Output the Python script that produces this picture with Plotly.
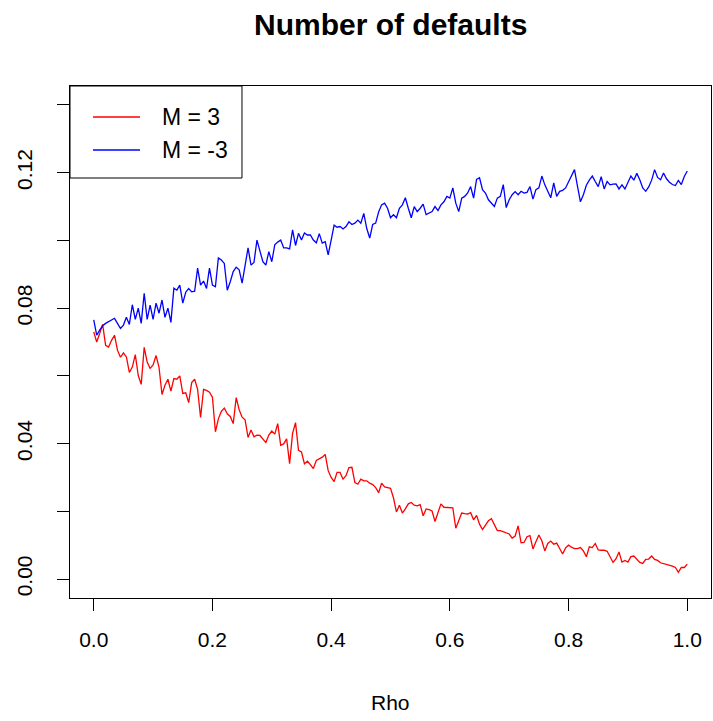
import plotly.graph_objects as go

# correlation grid, step 0.005
rho = [round(i * 0.005, 3) for i in range(201)]

# average number of defaults, M = 3
defaults_m3 = [
    0.0730, 0.0700, 0.0725, 0.0752, 0.0690, 0.0685, 0.0705, 0.0720, 0.0676, 0.0655,
    0.0668, 0.0656, 0.0610, 0.0626, 0.0663, 0.0601, 0.0575, 0.0684, 0.0641, 0.0622,
    0.0632, 0.0660, 0.0625, 0.0545, 0.0572, 0.0590, 0.0555, 0.0592, 0.0590, 0.0600,
    0.0548, 0.0550, 0.0521, 0.0580, 0.0590, 0.0560, 0.0477, 0.0560, 0.0557, 0.0552,
    0.0537, 0.0435, 0.0473, 0.0495, 0.0505, 0.0488, 0.0480, 0.0459, 0.0536, 0.0500,
    0.0478, 0.0470, 0.0418, 0.0440, 0.0420, 0.0425, 0.0424, 0.0412, 0.0403, 0.0425,
    0.0437, 0.0428, 0.0459, 0.0395, 0.0399, 0.0414, 0.0341, 0.0430, 0.0462, 0.0380,
    0.0375, 0.0340, 0.0348, 0.0338, 0.0326, 0.0350, 0.0355, 0.0360, 0.0368, 0.0320,
    0.0300, 0.0288, 0.0315, 0.0315, 0.0295, 0.0305, 0.0329, 0.0330, 0.0285, 0.0280,
    0.0295, 0.0290, 0.0290, 0.0283, 0.0279, 0.0270, 0.0255, 0.0283, 0.0272, 0.0270,
    0.0268, 0.0240, 0.0198, 0.0218, 0.0195, 0.0207, 0.0222, 0.0226, 0.0218, 0.0216,
    0.0220, 0.0187, 0.0207, 0.0205, 0.0201, 0.0170, 0.0196, 0.0222, 0.0212, 0.0212,
    0.0212, 0.0210, 0.0150, 0.0172, 0.0195, 0.0193, 0.0192, 0.0196, 0.0175, 0.0188,
    0.0162, 0.0146, 0.0160, 0.0172, 0.0178, 0.0162, 0.0143, 0.0143, 0.0140, 0.0137,
    0.0133, 0.0121, 0.0127, 0.0157, 0.0107, 0.0108, 0.0125, 0.0128, 0.0089, 0.0110,
    0.0130, 0.0113, 0.0083, 0.0105, 0.0112, 0.0103, 0.0106, 0.0090, 0.0074, 0.0092,
    0.0100, 0.0094, 0.0090, 0.0090, 0.0093, 0.0083, 0.0066, 0.0095, 0.0093, 0.0105,
    0.0086, 0.0085, 0.0085, 0.0082, 0.0066, 0.0049, 0.0060, 0.0080, 0.0050, 0.0055,
    0.0050, 0.0066, 0.0068, 0.0060, 0.0049, 0.0046, 0.0058, 0.0059, 0.0068, 0.0058,
    0.0055, 0.0048, 0.0046, 0.0044, 0.0042, 0.0038, 0.0034, 0.0020, 0.0034, 0.0034,
    0.0044,
]

# average number of defaults, M = -3
defaults_m_neg3 = [
    0.0765, 0.0720, 0.0735, 0.0748, 0.0755, 0.0760, 0.0767, 0.0770, 0.0755, 0.0740,
    0.0750, 0.0773, 0.0752, 0.0810, 0.0767, 0.0800, 0.0755, 0.0844, 0.0767, 0.0809,
    0.0767, 0.0815, 0.0785, 0.0824, 0.0773, 0.0800, 0.0758, 0.0859, 0.0853, 0.0868,
    0.0815, 0.0847, 0.0858, 0.0848, 0.0850, 0.0918, 0.0868, 0.0880, 0.0858, 0.0918,
    0.0868, 0.0863, 0.0948, 0.0942, 0.0932, 0.0853, 0.0878, 0.0908, 0.0921, 0.0913,
    0.0874, 0.0927, 0.0978, 0.0927, 0.0935, 0.1001, 0.0967, 0.0937, 0.0927, 0.0967,
    0.0937, 0.0987, 0.0995, 0.1001, 0.0978, 0.0978, 0.0975, 0.1031, 0.0985, 0.1021,
    0.1001, 0.1022, 0.1016, 0.1016, 0.1001, 0.0993, 0.1020, 0.0992, 0.0996, 0.0957,
    0.1001, 0.1045, 0.1039, 0.1041, 0.1034, 0.1041, 0.1055, 0.1047, 0.1051, 0.1060,
    0.1051, 0.1080, 0.1035, 0.1007, 0.1047, 0.1051, 0.1084, 0.1105, 0.1110, 0.1095,
    0.1067, 0.1076, 0.1067, 0.1095, 0.1105, 0.1126, 0.1095, 0.1067, 0.1100, 0.1085,
    0.1095, 0.1107, 0.1076, 0.1080, 0.1085, 0.1100, 0.1088, 0.1105, 0.1114, 0.1130,
    0.1125, 0.1155, 0.1110, 0.1085, 0.1125, 0.1130, 0.1140, 0.1159, 0.1125, 0.1180,
    0.1185, 0.1150, 0.1140, 0.1120, 0.1110, 0.1100, 0.1125, 0.1130, 0.1165, 0.1097,
    0.1120, 0.1135, 0.1144, 0.1135, 0.1145, 0.1140, 0.1142, 0.1159, 0.1122, 0.1150,
    0.1155, 0.1190, 0.1164, 0.1145, 0.1126, 0.1170, 0.1130, 0.1145, 0.1148, 0.1155,
    0.1172, 0.1190, 0.1209, 0.1160, 0.1114, 0.1135, 0.1163, 0.1178, 0.1190, 0.1174,
    0.1159, 0.1188, 0.1152, 0.1174, 0.1164, 0.1166, 0.1167, 0.1152, 0.1164, 0.1152,
    0.1170, 0.1190, 0.1178, 0.1198, 0.1179, 0.1155, 0.1145, 0.1158, 0.1178, 0.1209,
    0.1186, 0.1179, 0.1199, 0.1182, 0.1172, 0.1165, 0.1162, 0.1177, 0.1165, 0.1189,
    0.1205,
]

x_ticks = [0.0, 0.2, 0.4, 0.6, 0.8, 1.0]
x_tick_labels = ["0.0", "0.2", "0.4", "0.6", "0.8", "1.0"]
y_ticks = [0.00, 0.02, 0.04, 0.06, 0.08, 0.10, 0.12, 0.14]
y_tick_labels = ["0.00", "", "0.04", "", "0.08", "", "0.12", ""]

legend_labels = ["M = 3", "M = -3"]
legend_colors = ["#ff0000", "#0000ff"]

FONT = "Liberation Sans, Arial, sans-serif"

fig = go.Figure()
fig.add_trace(go.Scatter(x=rho, y=defaults_m3, mode="lines", name=legend_labels[0],
                         line=dict(color=legend_colors[0], width=1.3)))
fig.add_trace(go.Scatter(x=rho, y=defaults_m_neg3, mode="lines", name=legend_labels[1],
                         line=dict(color=legend_colors[1], width=1.3)))

axis_common = dict(
    showgrid=False, zeroline=False,
    showline=True, linecolor="black", linewidth=1, mirror=True,
    ticks="outside", ticklen=12, tickwidth=1, tickcolor="black",
    tickfont=dict(family=FONT, size=21, color="black"),
)

fig.update_xaxes(range=[-0.04, 1.04], tickmode="array", tickvals=x_ticks,
                 ticktext=x_tick_labels, ticklabelstandoff=11, **axis_common)
fig.update_yaxes(range=[-0.0056, 0.1456], tickmode="array", tickvals=y_ticks,
                 ticktext=y_tick_labels, tickangle=-90, ticklabelstandoff=17,
                 **axis_common)

# legend box in the upper-left corner of the plotting region
box_x1, box_y0 = 0.2683, 0.8203
row_y = [0.9395, 0.875]
shapes = [dict(type="rect", xref="paper", yref="paper", x0=0, x1=box_x1, y0=box_y0, y1=1,
               line=dict(color="black", width=1), fillcolor="white", layer="above")]
annotations = []
for label, color, yy in zip(legend_labels, legend_colors, row_y):
    shapes.append(dict(type="line", xref="paper", yref="paper", x0=0.0359, x1=0.1092,
                       y0=yy, y1=yy, line=dict(color=color, width=1.3), layer="above"))
    annotations.append(dict(xref="paper", yref="paper", x=0.1404, y=yy, text=label,
                            showarrow=False, xanchor="left", yanchor="middle",
                            font=dict(family=FONT, size=23, color="black")))

annotations.append(dict(xref="paper", yref="paper", x=0.5, y=1.121,
                        text="<b>Number of defaults</b>", showarrow=False,
                        xanchor="center", yanchor="middle",
                        font=dict(family=FONT, size=30, color="black")))
annotations.append(dict(xref="paper", yref="paper", x=0.5, y=-0.205, text="Rho",
                        showarrow=False, xanchor="center", yanchor="middle",
                        font=dict(family=FONT, size=21, color="black")))

fig.update_layout(
    width=713, height=721,
    margin=dict(l=70, r=2, t=86, b=123),
    paper_bgcolor="white", plot_bgcolor="white",
    showlegend=False,
    shapes=shapes, annotations=annotations,
)

fig.write_html("out.html")
